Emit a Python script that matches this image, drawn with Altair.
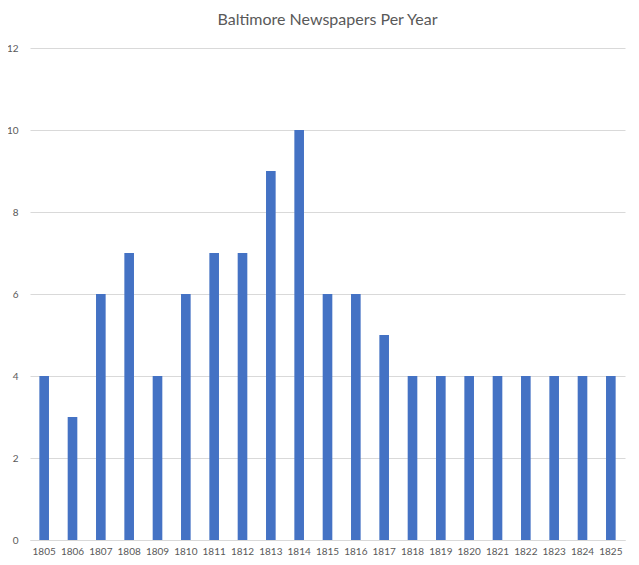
import altair as alt
import pandas as pd

years = [str(y) for y in range(1805, 1826)]
counts = [4, 3, 6, 7, 4, 6, 7, 7, 9, 10, 6, 6, 5, 4, 4, 4, 4, 4, 4, 4, 4]

df = pd.DataFrame({"Year": years, "Newspapers": counts})

chart = alt.Chart(df).mark_bar(color="#4472C4").encode(
    x=alt.X("Year:N", sort=years, title=None,
            scale=alt.Scale(paddingInner=0.66, paddingOuter=0.33),
            axis=alt.Axis(labelAngle=0, labelFont="Lato", labelFontSize=10,
                          labelColor="#595959", ticks=False, domain=True,
                          domainColor="#d9d9d9", labelPadding=6)),
    y=alt.Y("Newspapers:Q", title=None,
            scale=alt.Scale(domain=[0, 12]),
            axis=alt.Axis(values=[0, 2, 4, 6, 8, 10, 12], labelFont="Lato",
                          labelFontSize=10, labelColor="#595959", ticks=False,
                          domain=False, gridColor="#d9d9d9", labelPadding=12)),
).properties(
    width=595,
    height=492,
    title=alt.TitleParams("Baltimore Newspapers Per Year", font="Lato",
                          fontSize=16, fontWeight="normal", color="#595959",
                          anchor="middle", offset=15),
    autosize=alt.AutoSizeParams(type="none"),
    padding={"left": 22, "top": 40, "right": 6, "bottom": 17},
).configure_view(stroke=None)

chart.save("out.html", embed_options={"renderer": "svg", "actions": False})
